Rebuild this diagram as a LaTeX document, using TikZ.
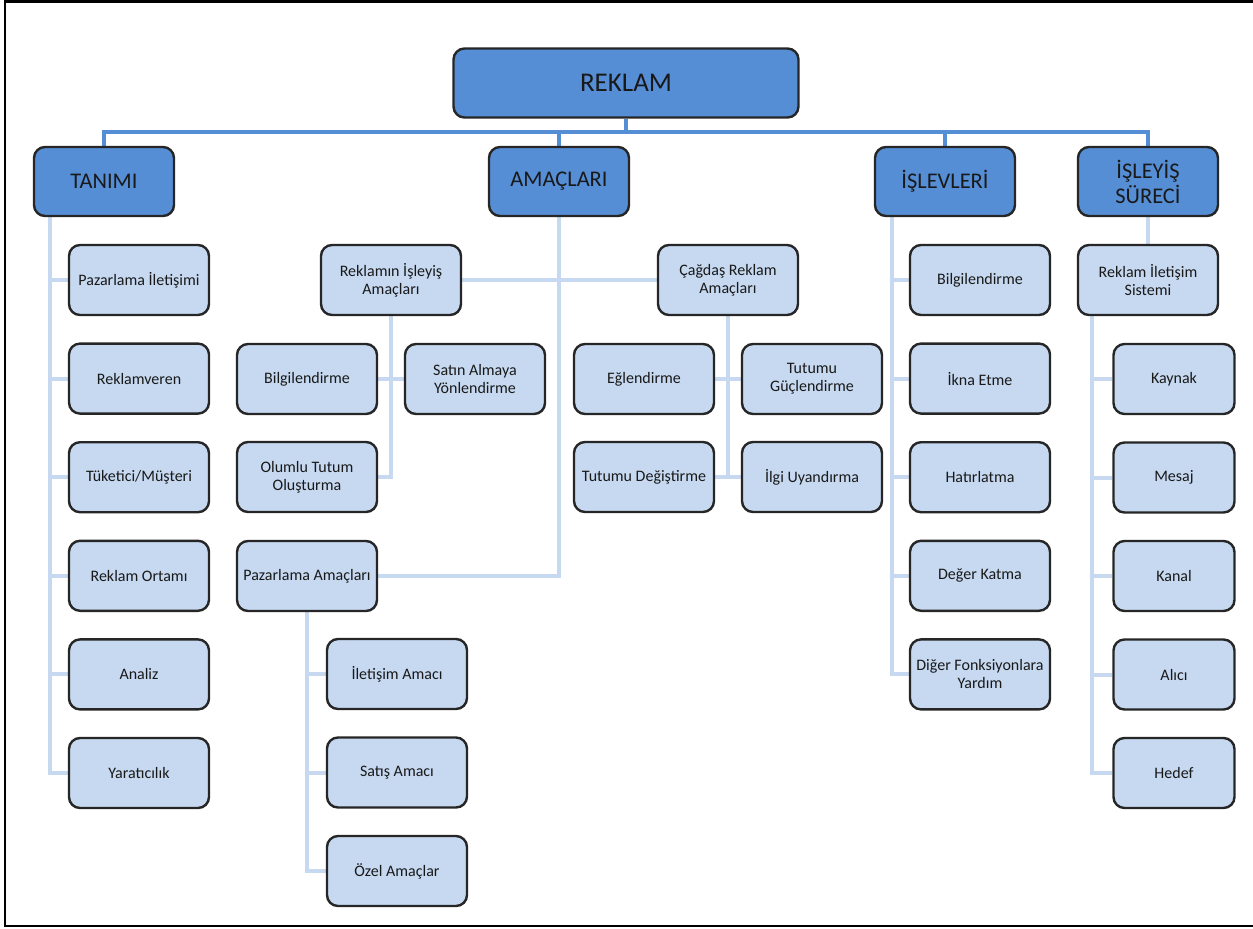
\documentclass[tikz,border=0pt]{standalone}
\usepackage{fontspec}
\setmainfont{Carlito}
\usetikzlibrary{backgrounds}

\definecolor{koyumavi}{RGB}{85,142,213}
\definecolor{acikmavi}{RGB}{198,217,241}

\tikzset{
  ana/.style={draw=black!85, line width=1.2pt, rounded corners=5.5pt, fill=koyumavi,
    minimum width=70pt, minimum height=34.5pt, inner sep=1pt, align=center,
    text=black!90, font=\fontsize{11.2}{12.5}\selectfont},
  kutu/.style={draw=black!85, line width=1.2pt, rounded corners=5.5pt, fill=acikmavi,
    minimum width=70pt, minimum height=35pt, inner sep=1pt, align=center,
    text=black!90, font=\fontsize{8}{9}\selectfont},
  kalin/.style={koyumavi, line width=2pt},
  ince/.style={acikmavi, line width=2pt},
}

\begin{document}
\begin{tikzpicture}[x=0.5pt, y=-0.5pt]
    \useasboundingbox (0,0) rectangle (1253,928);
    % Marco
    \draw[line width=1.2pt] (1256,1.5) -- (5,1.5) -- (5,926) -- (1256,926);

    % Nivel superior
    \node[ana, minimum width=172.5pt, font=\fontsize{13.5}{15}\selectfont] (reklam) at (626,83) {REKLAM};
    \node[ana] (tanimi) at (104,181.5) {TANIMI};
    \node[ana] (amaclari) at (559,181.5) {AMAÇLARI};
    \node[ana] (islevleri) at (945,181.5) {İŞLEVLERİ};
    \node[ana] (surec) at (1148,181.5) {İŞLEYİŞ\\SÜRECİ};

    % Columna Tanımı
    \foreach \ad [count=\i] in {Pazarlama İletişimi, Reklamveren, Tüketici/Müşteri, Reklam Ortamı, Analiz, Yaratıcılık} {
        \node[kutu] (t\i) at (139, {280+98.6*(\i-1)}) {\ad};
    }

    % Columna Amaçları
    \node[kutu] (isleyis) at (391,280) {Reklamın İşleyiş\\Amaçları};
    \node[kutu] (cagdas) at (728,280) {Çağdaş Reklam\\Amaçları};
    \node[kutu] (bilgi) at (307,379) {Bilgilendirme};
    \node[kutu] (satin) at (475,379) {Satın Almaya\\Yönlendirme};
    \node[kutu] (olumlu) at (307,477) {Olumlu Tutum\\Oluşturma};
    \node[kutu] (pazarlama) at (307,576) {Pazarlama Amaçları};
    \node[kutu] (eglen) at (644,379) {Eğlendirme};
    \node[kutu] (guclen) at (812,379) {Tutumu\\Güçlendirme};
    \node[kutu] (degis) at (644,477) {Tutumu Değiştirme};
    \node[kutu] (ilgi) at (812,477) {İlgi Uyandırma};
    \foreach \ad [count=\i] in {İletişim Amacı, Satış Amacı, Özel Amaçlar} {
        \node[kutu] (p\i) at (397, {674+98.5*(\i-1)}) {\ad};
    }

    % Columna İşlevleri
    \foreach \ad [count=\i] in {Bilgilendirme, İkna Etme, Hatırlatma, Değer Katma, Diğer Fonksiyonlara\\Yardım} {
        \node[kutu] (i\i) at (980, {280+98.6*(\i-1)}) {\ad};
    }

    % Columna İşleyiş Süreci
    \node[kutu] (ris) at (1148,280) {Reklam İletişim\\Sistemi};
    \foreach \ad [count=\i] in {Kaynak, Mesaj, Kanal, Alıcı, Hedef} {
        \node[kutu, minimum width=60.5pt] (s\i) at (1174, {379+98.5*(\i-1)}) {\ad};
    }

    % Líneas de conexión
    \begin{scope}[on background layer]
        \coordinate (hat) at (626,132);
        \draw[kalin] (reklam) -- (reklam |- hat);
        \draw[kalin] (tanimi.north) |- (hat) -| (surec.north);
        \draw[kalin] (amaclari.north) -- (amaclari.north |- hat);
        \draw[kalin] (islevleri.north) -- (islevleri.north |- hat);

        \coordinate (tx) at (50,0);
        \draw[ince] (tanimi.south -| tx) |- (t6.west);
        \foreach \i in {1,...,5} {
            \draw[ince] (t\i.west) -- (t\i -| tx);
        }

        \draw[ince] (amaclari) |- (pazarlama.east);
        \draw[ince] (isleyis) -- (cagdas);
        \draw[ince] (isleyis) |- (olumlu.east);
        \draw[ince] (bilgi) -- (satin);
        \draw[ince] (cagdas) -- (cagdas |- degis);
        \draw[ince] (eglen) -- (guclen);
        \draw[ince] (degis) -- (ilgi);
        \draw[ince] (pazarlama) |- (p3.west);
        \foreach \i in {1,2} {
            \draw[ince] (p\i.west) -- (p\i -| pazarlama);
        }

        \coordinate (ix) at (892,0);
        \draw[ince] (islevleri.south -| ix) |- (i5.west);
        \foreach \i in {1,...,4} {
            \draw[ince] (i\i.west) -- (i\i -| ix);
        }

        \draw[ince] (surec) -- (ris);
        \coordinate (sx) at (1092,0);
        \draw[ince] (ris.south -| sx) |- (s5.west);
        \foreach \i in {1,...,4} {
            \draw[ince] (s\i.west) -- (s\i -| sx);
        }
    \end{scope}
\end{tikzpicture}
\end{document}
